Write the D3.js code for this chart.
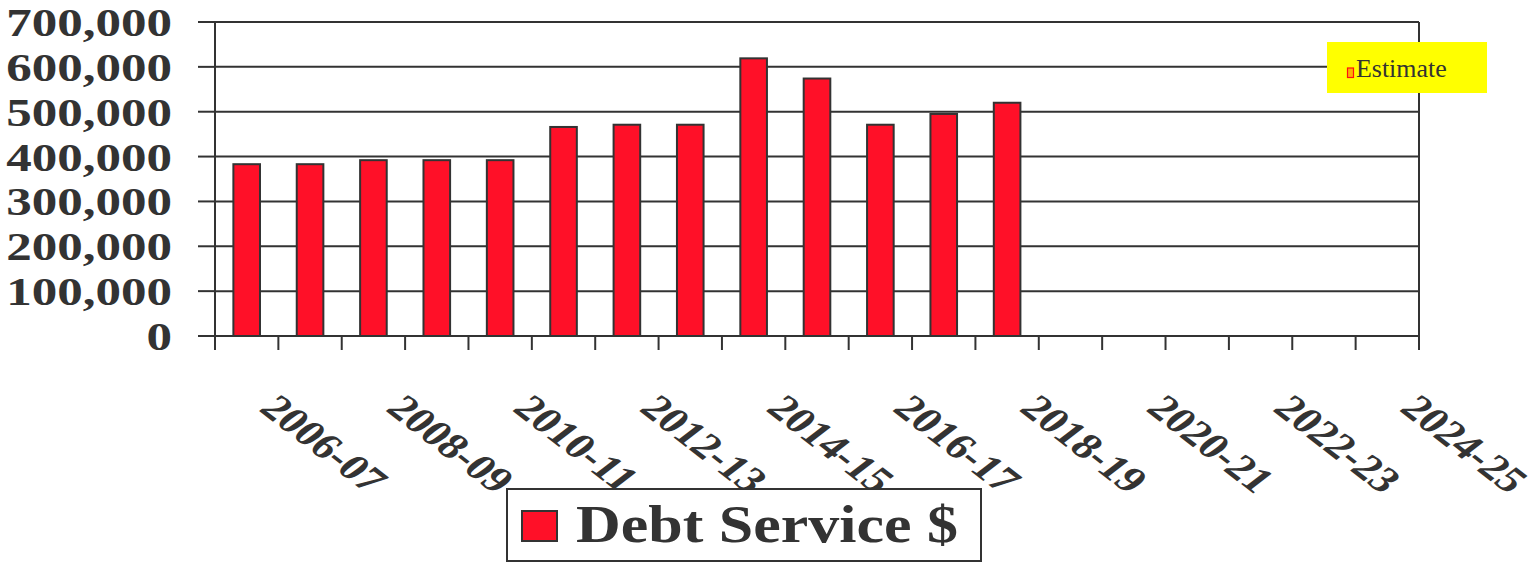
<!DOCTYPE html>
<html>
<head>
<meta charset="utf-8">
<script src="https://cdn.jsdelivr.net/npm/d3@7"></script>
<style>
  html, body { margin: 0; padding: 0; background: #fff; }
  svg { display: block; }
</style>
</head>
<body>
<div id="chart"></div>
<script>
const categories = ["2006-07","2007-08","2008-09","2009-10","2010-11","2011-12","2012-13","2013-14","2014-15","2015-16","2016-17","2017-18","2018-19","2019-20","2020-21","2021-22","2022-23","2023-24","2024-25"];
const debtService = [383000,383000,392000,392000,392000,466000,471000,471000,619000,574000,471000,495000,520000];
const yTicks = [0,100000,200000,300000,400000,500000,600000,700000];
const xTickLabels = ["2006-07","2008-09","2010-11","2012-13","2014-15","2016-17","2018-19","2020-21","2022-23","2024-25"];
const seriesName = "Debt Service $";
const noteText = "Estimate";

const W = 1535, H = 562;
const pLeft = 215, pRight = 1419, pTop = 22, pBottom = 336;
const ink = "#333333";
const serif = "'Liberation Serif','Times New Roman',Times,serif";

const svg = d3.select("#chart").append("svg").attr("width", W).attr("height", H);
svg.append("rect").attr("width", W).attr("height", H).attr("fill", "#fff");

const x = d3.scaleBand().domain(categories).range([pLeft, pRight]).padding(0);
const y = d3.scaleLinear().domain([0, 700000]).range([pBottom, pTop]);
const bw = x.bandwidth() * 0.42;

// gridlines
svg.append("g").selectAll("line").data(yTicks.filter(d => d > 0)).join("line")
  .attr("x1", pLeft).attr("x2", pRight)
  .attr("y1", d => y(d)).attr("y2", d => y(d))
  .attr("stroke", ink).attr("stroke-width", 2);

// y tick marks
svg.append("g").selectAll("line").data(yTicks).join("line")
  .attr("x1", pLeft - 17).attr("x2", pLeft)
  .attr("y1", d => y(d)).attr("y2", d => y(d))
  .attr("stroke", ink).attr("stroke-width", 2);

// x tick marks at band boundaries
const bounds = categories.map(c => x(c)).concat([pRight]);
svg.append("g").selectAll("line").data(bounds).join("line")
  .attr("x1", d => d).attr("x2", d => d)
  .attr("y1", pBottom).attr("y2", pBottom + 14)
  .attr("stroke", ink).attr("stroke-width", 2);

// axes + border
svg.append("line").attr("x1", pLeft).attr("x2", pLeft).attr("y1", pTop).attr("y2", pBottom + 14)
  .attr("stroke", ink).attr("stroke-width", 2);
svg.append("line").attr("x1", pRight).attr("x2", pRight).attr("y1", pTop).attr("y2", pBottom + 14)
  .attr("stroke", ink).attr("stroke-width", 2);

// bars
svg.append("g").selectAll("rect").data(debtService).join("rect")
  .attr("x", (d, i) => x(categories[i]) + (x.bandwidth() - bw) / 2)
  .attr("width", bw)
  .attr("y", d => y(d))
  .attr("height", d => y(0) - y(d))
  .attr("fill", "#ff1028")
  .attr("stroke", ink).attr("stroke-width", 2);

svg.append("line").attr("x1", pLeft).attr("x2", pRight).attr("y1", pBottom).attr("y2", pBottom)
  .attr("stroke", ink).attr("stroke-width", 2);

// y labels
svg.append("g").selectAll("text").data(yTicks).join("text")
  .attr("transform", d => `translate(172,${y(d) + 14}) scale(1.245,1)`)
  .attr("text-anchor", "end")
  .attr("font-family", serif).attr("font-weight", "bold").attr("font-size", 41)
  .attr("fill", ink)
  .text(d => d3.format(",")(d));

// x labels
svg.append("g").selectAll("text").data(xTickLabels).join("text")
  .attr("transform", d => `translate(${x(d) + x.bandwidth() / 2 + 11},410) scale(1.3,1) rotate(45)`)
  .attr("font-family", serif).attr("font-weight", "bold").attr("font-size", 36)
  .attr("fill", ink)
  .text(d => d);

// legend
const lg = svg.append("g");
lg.append("rect").attr("x", 507).attr("y", 489).attr("width", 474).attr("height", 72)
  .attr("fill", "#fff").attr("stroke", ink).attr("stroke-width", 2);
lg.append("rect").attr("x", 522).attr("y", 511).attr("width", 35).attr("height", 30)
  .attr("fill", "#ff1028").attr("stroke", ink).attr("stroke-width", 2);
lg.append("text").attr("x", 576).attr("y", 542)
  .attr("font-family", serif).attr("font-weight", "bold").attr("font-size", 53)
  .attr("textLength", 382).attr("lengthAdjust", "spacingAndGlyphs")
  .attr("fill", ink).text(seriesName);

// estimate note
const ng = svg.append("g");
ng.append("rect").attr("x", 1327).attr("y", 42).attr("width", 160).attr("height", 51).attr("fill", "#ffff00");
ng.append("rect").attr("x", 1347.5).attr("y", 68).attr("width", 6).attr("height", 9.5)
  .attr("fill", "#ffb000").attr("stroke", "#ff1010").attr("stroke-width", 1.2);
ng.append("text").attr("x", 1356).attr("y", 76.7)
  .attr("font-family", serif).attr("font-size", 24.5)
  .attr("textLength", 90.7).attr("lengthAdjust", "spacingAndGlyphs")
  .attr("fill", ink).text(noteText);
</script>
</body>
</html>
